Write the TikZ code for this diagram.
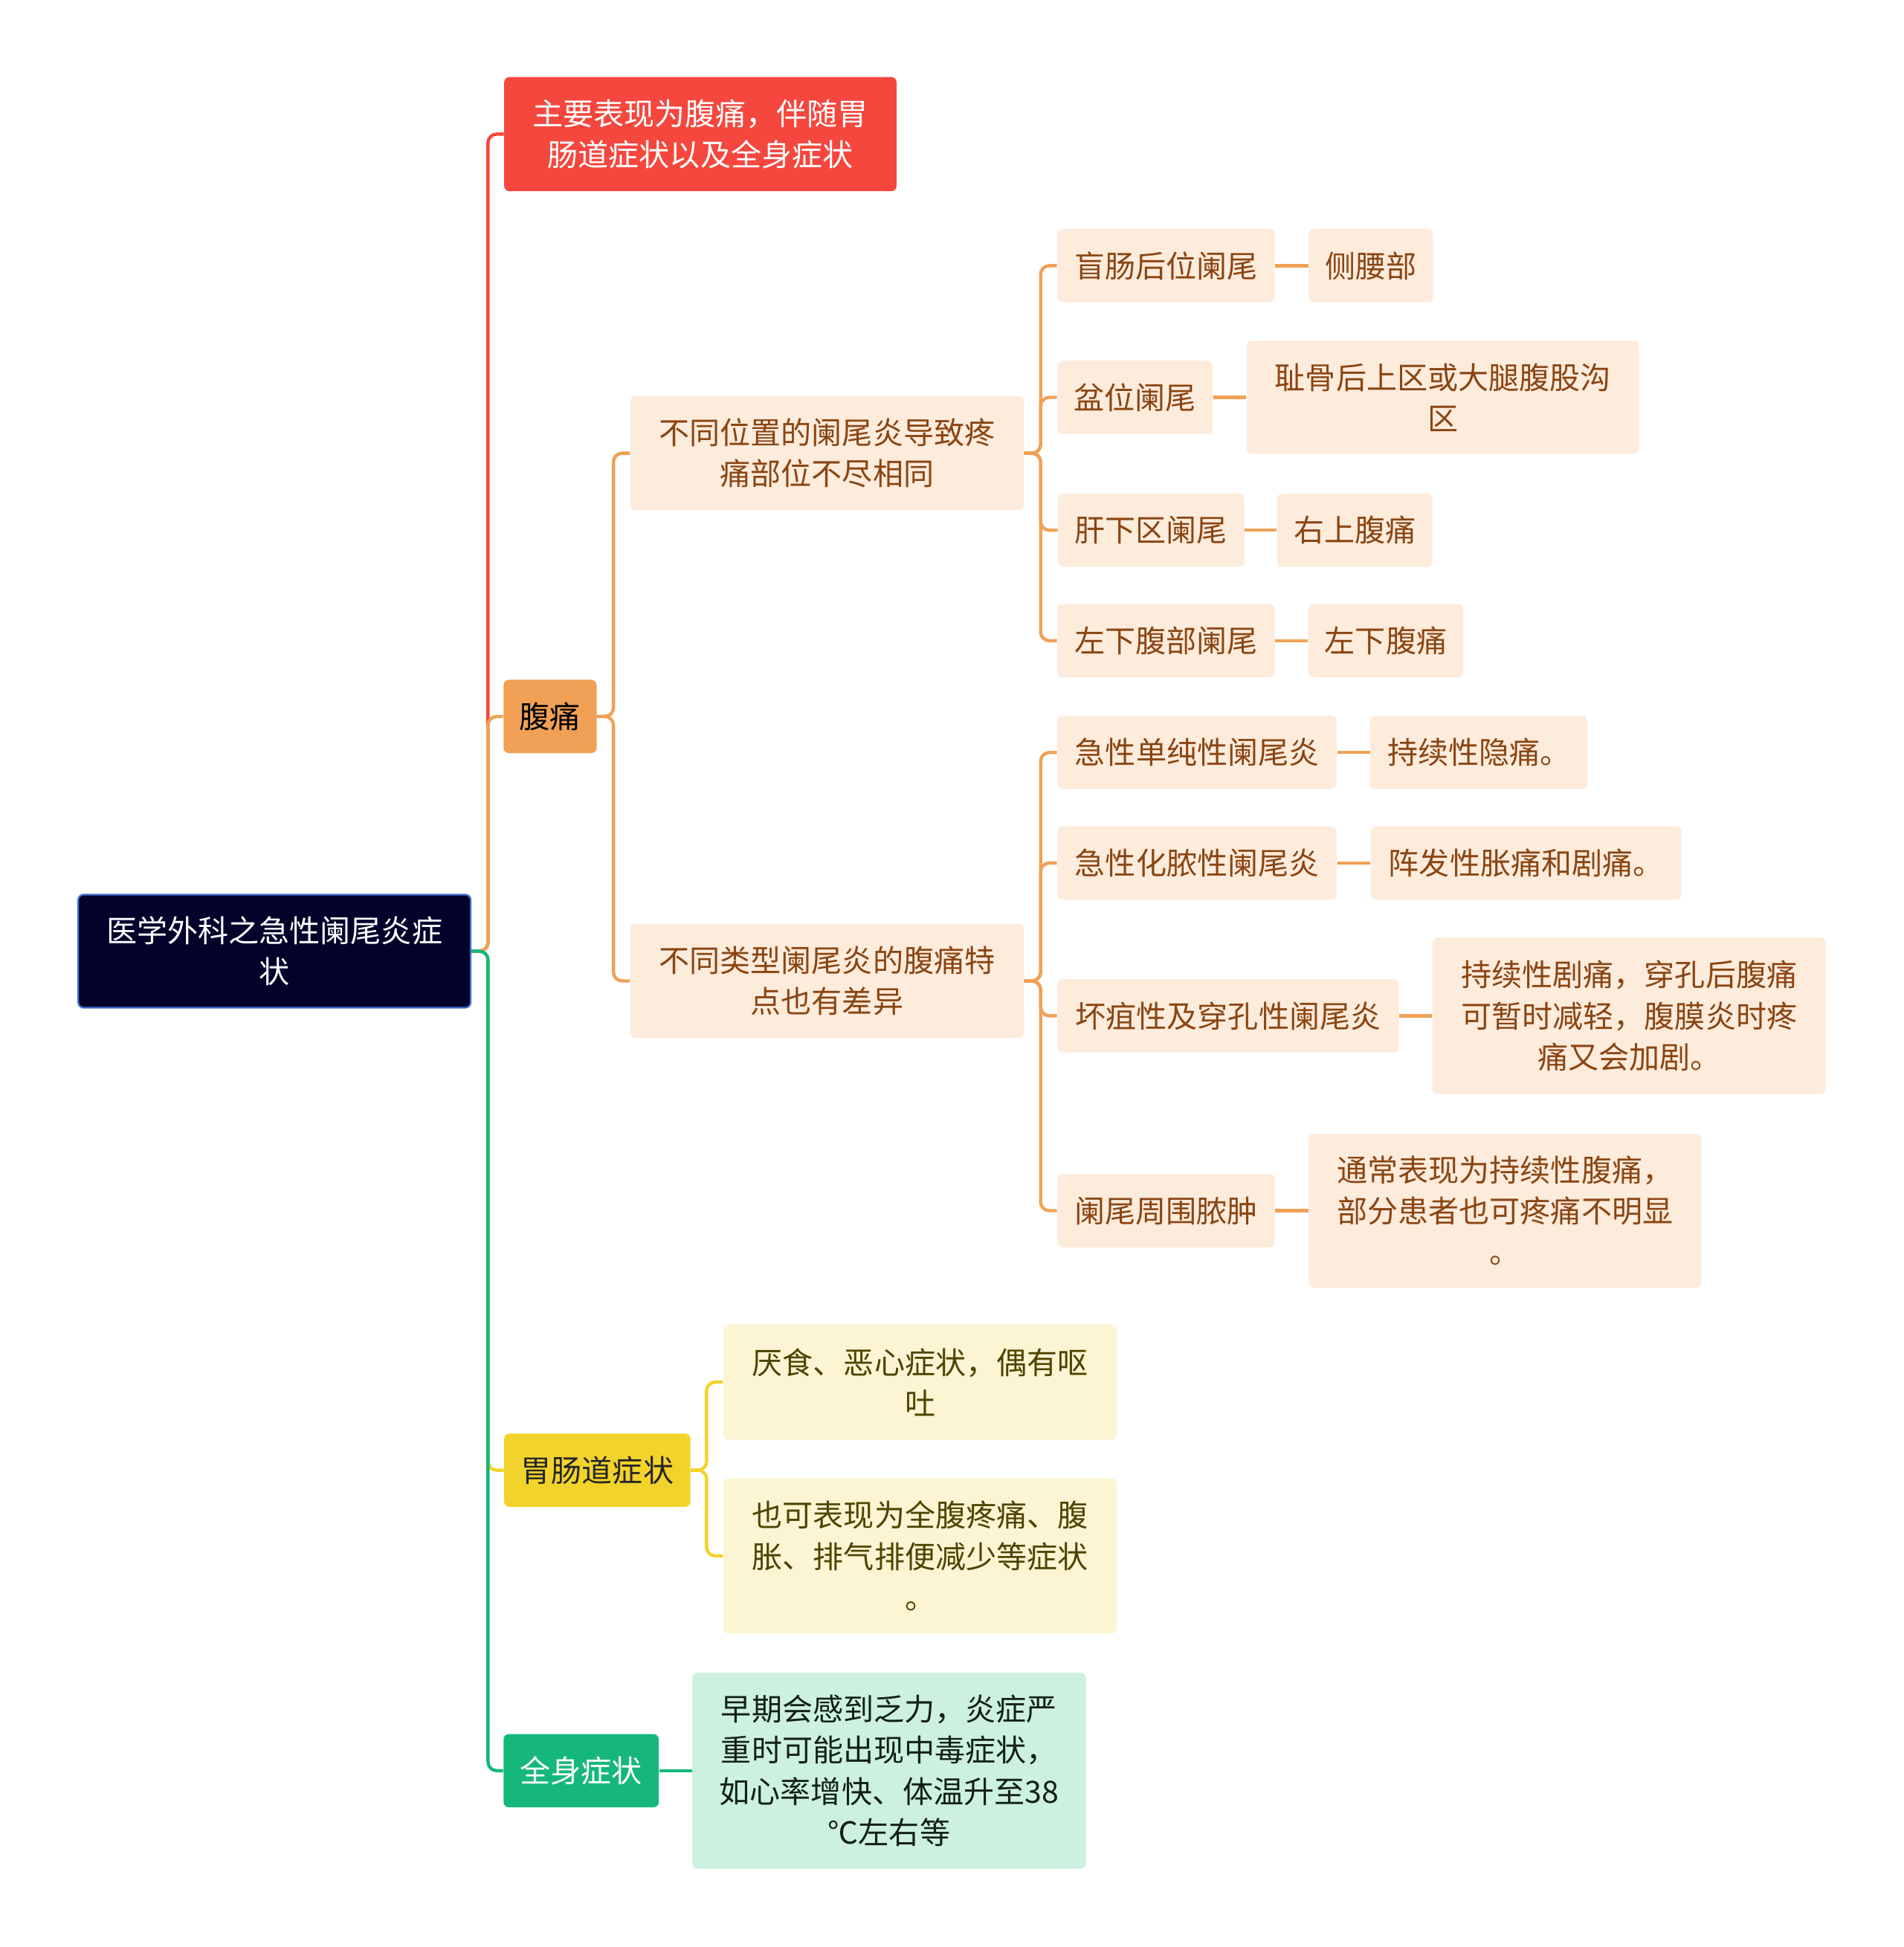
\documentclass[tikz,border=0pt]{standalone}
\usepackage{fontspec}
\setmainfont{Noto Sans CJK SC}
\definecolor{rootfill}{HTML}{02022B}
\definecolor{rootline}{HTML}{3B6FCB}
\definecolor{redc}{HTML}{F5473E}
\definecolor{orangec}{HTML}{F0A155}
\definecolor{lorange}{HTML}{FDEBDC}
\definecolor{browntext}{HTML}{8A4512}
\definecolor{yellowc}{HTML}{F2D32B}
\definecolor{lyellow}{HTML}{FBF5D3}
\definecolor{olivetext}{HTML}{4F4300}
\definecolor{greenc}{HTML}{15B87A}
\definecolor{lgreen}{HTML}{CDF1E1}
\definecolor{greentext}{HTML}{122018}
\begin{document}
\begin{tikzpicture}[
        x=0.02cm, y=-0.02cm,
        every node/.style={font=\fontsize{14}{18.8}\selectfont, align=center, inner sep=0pt, rounded corners=2.4pt, minimum height=1.18cm},
        rootbox/.style={draw=rootline, line width=0.8pt, fill=rootfill, text=white, minimum width=6.32cm, minimum height=1.82cm},
        topic/.style={fill=#1, text=white},
        painbox/.style={fill=lorange, text=browntext},
        gibox/.style={fill=lyellow, text=olivetext, minimum width=6.34cm},
        line/.style={draw, line width=1.5pt, rounded corners=4pt}
    ]
        \path [use as bounding box, fill=white] (0,0) rectangle (1533,1568);

        \node [rootbox] (root) at (221,766) {医学外科之急性阑尾炎症\\状};

        \node [topic=redc, minimum width=6.32cm, minimum height=1.84cm] (main) at (564,108) {主要表现为腹痛，伴随胃\\肠道症状以及全身症状};
        \node [topic=orangec, text=black, minimum width=1.5cm] (pain) at (443,577) {腹痛};
        \node [topic=yellowc, text=black!85, minimum width=3cm] (gi) at (481,1184) {胃肠道症状};
        \node [topic=greenc, minimum width=2.5cm] (body) at (468,1426) {全身症状};

        \node [painbox, minimum width=6.34cm, minimum height=1.84cm] (pos) at (666,365) {不同位置的阑尾炎导致疼\\痛部位不尽相同};
        \node [painbox, minimum width=6.34cm, minimum height=1.84cm] (kind) at (666,790) {不同类型阑尾炎的腹痛特\\点也有差异};

        \node [painbox, minimum width=3.5cm] (retro) at (939,214) {盲肠后位阑尾};
        \node [painbox, minimum width=2.5cm] (pelvic) at (914,320) {盆位阑尾};
        \node [painbox, minimum width=3cm] (subhep) at (927,427) {肝下区阑尾};
        \node [painbox, minimum width=3.5cm] (lowleft) at (939,516) {左下腹部阑尾};

        \node [painbox, minimum width=2cm, right of=retro, node distance=3.3cm] (retroR) {侧腰部};
        \node [painbox, minimum width=6.32cm, minimum height=1.82cm, right of=pelvic, node distance=4.96cm] (pelvicR) {耻骨后上区或大腿腹股沟\\区};
        \node [painbox, minimum width=2.5cm, right of=subhep, node distance=3.28cm] (subhepR) {右上腹痛};
        \node [painbox, minimum width=2.5cm, right of=lowleft, node distance=3.54cm] (lowleftR) {左下腹痛};

        \node [painbox, minimum width=4.5cm] (simple) at (964,606) {急性单纯性阑尾炎};
        \node [painbox, minimum width=4.5cm] (pus) at (964,695) {急性化脓性阑尾炎};
        \node [painbox, minimum width=5.5cm] (gangr) at (989,818) {坏疽性及穿孔性阑尾炎};
        \node [painbox, minimum width=3.5cm] (abscess) at (939,975) {阑尾周围脓肿};

        \node [painbox, minimum width=3.5cm, right of=simple, node distance=4.54cm] (simpleR) {持续性隐痛。};
        \node [painbox, minimum width=5cm, right of=pus, node distance=5.3cm] (pusR) {阵发性胀痛和剧痛。};
        \node [painbox, minimum width=6.34cm, minimum height=2.52cm, right of=gangr, node distance=6.46cm] (gangrR) {持续性剧痛，穿孔后腹痛\\可暂时减轻，腹膜炎时疼\\痛又会加剧。};
        \node [painbox, minimum width=6.32cm, minimum height=2.48cm, right of=abscess, node distance=5.46cm] (abscessR) {通常表现为持续性腹痛，\\部分患者也可疼痛不明显\\。};

        \node [gibox, minimum height=1.86cm] (appetite) at (741,1113) {厌食、恶心症状，偶有呕\\吐};
        \node [gibox, minimum height=2.5cm] (bloat) at (741,1253) {也可表现为全腹疼痛、腹\\胀、排气排便减少等症状\\。};

        \node [fill=lgreen, text=greentext, minimum width=6.34cm, minimum height=3.16cm] (fever) at (716,1426) {早期会感到乏力，炎症严\\重时可能出现中毒症状，\\如心率增快、体温升至38\\℃左右等};

        % trunk and forks
        \coordinate (trunk) at (393,766);
        \coordinate (painfork) at (494,577);
        \coordinate (posfork) at (838,365);
        \coordinate (kindfork) at (838,790);
        \coordinate (gifork) at (569,1184);

        \path [line, draw=redc] (root.east) -- (trunk) |- (main.west);
        \path [line, draw=orangec] (root.east) -- (trunk) |- (pain.west);
        \path [line, draw=yellowc] (root.east) -- (trunk) |- (gi.west);
        \path [line, draw=greenc] (root.east) -- (trunk) |- (body.west);

        \foreach \kid in {pos, kind}
            \path [line, draw=orangec] (pain.east) -- (painfork) |- (\kid.west);
        \foreach \kid in {retro, pelvic, subhep, lowleft}
            \path [line, draw=orangec] (pos.east) -- (posfork) |- (\kid.west);
        \foreach \kid in {simple, pus, gangr, abscess}
            \path [line, draw=orangec] (kind.east) -- (kindfork) |- (\kid.west);
        \foreach \kid in {retro, pelvic, subhep, lowleft, simple, pus, gangr, abscess}
            \path [line, draw=orangec] (\kid.east) -- (\kid R.west);

        \foreach \kid in {appetite, bloat}
            \path [line, draw=yellowc] (gi.east) -- (gifork) |- (\kid.west);
        \path [line, draw=greenc] (body.east) -- (fever.west);
    \end{tikzpicture}
\end{document}
